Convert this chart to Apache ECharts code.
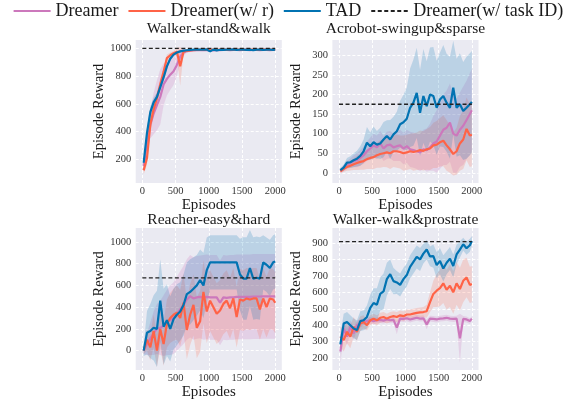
<!DOCTYPE html>
<html>
<head>
<meta charset="utf-8">
<script src="https://cdn.jsdelivr.net/npm/echarts@6/dist/echarts.min.js"></script>
<style>
  html, body { margin: 0; padding: 0; background: #fff; }
  #main { width: 574px; height: 401px; }
</style>
</head>
<body>
<div id="main"></div>
<script>
// x positions of every evaluation point
var episodes = [20, 70, 120, 170, 220, 270, 320, 370, 420, 470,
  520, 570, 620, 670, 720, 770, 820, 870, 920, 970,
  1020, 1070, 1120, 1170, 1220, 1270, 1320, 1370, 1420, 1470,
  1520, 1570, 1620, 1670, 1720, 1770, 1820, 1870, 1920, 1970,
  2000];

var methodNames = ['Dreamer', 'Dreamer(w/ r)', 'TAD'];
var refName = 'Dreamer(w/ task ID)';
var panelTitles = ['Walker-stand&walk', 'Acrobot-swingup&sparse', 'Reacher-easy&hard', 'Walker-walk&prostrate'];
var taskIdReward = [1000, 175, 670, 908];

// tick labels
var xTicks = [0, 500, 1000, 1500, 2000];
var swTicks = [200, 400, 600, 800, 1000];
var abTicks = [0, 50, 100, 150, 200, 250, 300];
var reTicks = [0, 200, 400, 600, 800, 1000];
var wpTicks = [200, 300, 400, 500, 600, 700, 800, 900];

// Walker-stand&walk
var swDreamer = [150, 320, 450, 530, 590, 650, 740, 780, 810, 835,
  880, 940, 970, 980, 984, 986, 987, 988, 986, 987,
  988, 985, 988, 987, 989, 988, 987, 989, 988, 987,
  988, 989, 987, 988, 988, 987, 989, 988, 987, 988,
  988];
var swDreamerSd = [40, 60, 100, 150, 180, 200, 150, 120, 110, 100,
  80, 50, 25, 12, 10, 8, 8, 7, 7, 7,
  6, 6, 6, 6, 6, 6, 6, 6, 6, 6,
  6, 6, 6, 6, 6, 6, 6, 6, 6, 6,
  6];
var swWithR = [120, 210, 450, 560, 640, 740, 830, 930, 950, 965,
  975, 870, 975, 982, 985, 987, 988, 989, 990, 989,
  990, 990, 989, 990, 990, 989, 990, 991, 990, 990,
  990, 989, 990, 990, 989, 990, 991, 990, 990, 990,
  990];
var swWithRSd = [30, 50, 60, 50, 45, 40, 35, 25, 20, 15,
  30, 140, 15, 8, 6, 5, 5, 5, 4, 4,
  4, 4, 4, 4, 4, 4, 4, 4, 4, 4,
  4, 4, 4, 4, 4, 4, 4, 4, 4, 4,
  4];
var swTad = [175, 390, 540, 610, 650, 720, 790, 870, 925, 955,
  970, 978, 983, 986, 988, 990, 990, 991, 990, 992,
  978, 991, 985, 990, 989, 991, 990, 992, 988, 990,
  991, 989, 990, 986, 991, 990, 988, 991, 990, 989,
  990];
var swTadSd = [25, 40, 40, 35, 30, 30, 25, 20, 15, 12,
  10, 8, 6, 5, 5, 4, 4, 4, 4, 4,
  10, 4, 6, 4, 4, 4, 4, 4, 5, 4,
  4, 4, 4, 4, 4, 4, 4, 4, 4, 4,
  4];

// Acrobot-swingup&sparse
var abDreamer = [5, 12, 20, 25, 30, 32, 38, 45, 55, 62,
  70, 65, 75, 62, 70, 72, 65, 68, 70, 62,
  68, 60, 58, 55, 52, 60, 58, 65, 75, 80,
  95, 110, 115, 128, 100, 95, 110, 120, 135, 150,
  160];
var abDreamerSd = [5, 8, 10, 12, 15, 18, 20, 22, 25, 28,
  30, 30, 32, 32, 35, 35, 35, 38, 40, 40,
  42, 45, 45, 45, 48, 50, 55, 60, 70, 80,
  85, 90, 95, 100, 100, 95, 95, 100, 100, 105,
  105];
var abWithR = [4, 10, 15, 18, 22, 25, 28, 30, 35, 38,
  40, 45, 48, 50, 52, 50, 55, 55, 53, 50,
  52, 55, 53, 55, 58, 56, 60, 62, 70, 72,
  78, 82, 70, 60, 48, 55, 75, 85, 112, 95,
  97];
var abWithRSd = [5, 8, 10, 12, 15, 18, 20, 22, 25, 28,
  30, 32, 35, 35, 38, 40, 40, 42, 42, 45,
  45, 45, 48, 48, 50, 50, 52, 55, 58, 60,
  62, 65, 65, 60, 55, 60, 70, 75, 80, 80,
  80];
var abTad = [7, 13, 26, 27, 32, 36, 43, 55, 77, 68,
  78, 72, 75, 85, 94, 85, 98, 106, 124, 129,
  138, 166, 179, 204, 153, 196, 170, 200, 196, 166,
  187, 196, 179, 166, 217, 166, 175, 158, 166, 175,
  181];
var abTadSd = [5, 8, 12, 15, 18, 20, 25, 30, 40, 35,
  40, 35, 40, 45, 40, 50, 45, 50, 60, 70,
  80, 100, 110, 115, 110, 120, 115, 120, 125, 120,
  120, 130, 125, 130, 120, 125, 130, 125, 130, 130,
  130];

// Reacher-easy&hard
var reDreamer = [0, 60, 110, 160, 200, 210, 230, 260, 280, 300,
  340, 380, 420, 470, 500, 480, 490, 495, 490, 495,
  490, 490, 490, 440, 490, 485, 490, 490, 495, 495,
  495, 495, 495, 498, 498, 498, 500, 500, 500, 500,
  500];
var reDreamerSd = [30, 100, 150, 200, 230, 250, 280, 300, 320, 330,
  340, 350, 360, 370, 380, 380, 380, 380, 390, 390,
  390, 390, 390, 390, 390, 390, 390, 390, 390, 390,
  390, 390, 390, 390, 390, 390, 390, 390, 390, 390,
  390];
var reWithR = [0, 100, 30, 180, 0, 200, 60, 250, 300, 330,
  350, 300, 440, 190, 330, 420, 210, 270, 540, 360,
  460, 400, 340, 370, 430, 460, 390, 480, 310, 470,
  460, 480, 470, 480, 480, 380, 480, 400, 480, 470,
  440];
var reWithRSd = [30, 100, 120, 150, 150, 180, 200, 220, 230, 240,
  250, 260, 270, 270, 280, 280, 280, 280, 290, 290,
  280, 280, 280, 280, 280, 280, 280, 280, 280, 280,
  280, 280, 280, 280, 280, 280, 280, 280, 280, 280,
  280];
var reTad = [0, 165, 180, 210, 200, 460, 220, 280, 200, 290,
  330, 360, 420, 520, 540, 570, 600, 650, 600, 740,
  812, 812, 812, 812, 812, 812, 812, 812, 812, 700,
  663, 663, 760, 663, 670, 663, 812, 790, 760, 812,
  820];
var reTadSd = [50, 200, 250, 300, 350, 380, 350, 330, 300, 280,
  280, 270, 280, 290, 300, 290, 280, 280, 300, 300,
  250, 250, 250, 250, 250, 250, 250, 250, 250, 330,
  380, 380, 350, 380, 380, 380, 250, 250, 260, 250,
  250];

// Walker-walk&prostrate
var wpDreamer = [240, 380, 330, 390, 350, 400, 410, 420, 425, 430,
  425, 430, 432, 428, 435, 430, 432, 385, 440, 438,
  442, 435, 440, 445, 440, 442, 405, 440, 438, 435,
  440, 442, 445, 440, 438, 440, 320, 438, 435, 425,
  440];
var wpDreamerSd = [70, 50, 50, 40, 40, 30, 25, 20, 20, 20,
  20, 18, 18, 18, 18, 18, 18, 40, 18, 18,
  18, 18, 18, 18, 18, 18, 30, 18, 18, 18,
  18, 18, 18, 18, 18, 18, 150, 18, 18, 18,
  15];
var wpWithR = [330, 310, 360, 330, 390, 360, 410, 420, 400, 430,
  440, 430, 445, 450, 440, 450, 455, 450, 460, 455,
  465, 465, 470, 475, 478, 480, 485, 540, 590, 610,
  625, 655, 615, 640, 600, 655, 620, 670, 690, 645,
  650];
var wpWithRSd = [60, 70, 70, 70, 60, 55, 45, 40, 30, 30,
  30, 30, 30, 30, 30, 30, 30, 30, 30, 30,
  30, 30, 30, 30, 30, 30, 40, 60, 80, 100,
  110, 120, 120, 130, 130, 130, 130, 130, 120, 110,
  110];
var wpTad = [283, 410, 420, 400, 380, 370, 425, 430, 450, 505,
  535, 525, 590, 605, 680, 710, 668, 660, 645, 680,
  705, 755, 785, 815, 800, 835, 860, 818, 820, 765,
  790, 745, 780, 805, 760, 830, 860, 892, 868, 886,
  912];
var wpTadSd = [60, 60, 60, 60, 60, 60, 60, 60, 70, 80,
  90, 100, 100, 110, 100, 90, 80, 70, 70, 70,
  70, 70, 70, 70, 70, 60, 60, 60, 70, 80,
  80, 80, 70, 70, 70, 60, 50, 40, 40, 40,
  30];

var panelMeans = [
  [swDreamer, swWithR, swTad],
  [abDreamer, abWithR, abTad],
  [reDreamer, reWithR, reTad],
  [wpDreamer, wpWithR, wpTad]
];
var panelSds = [
  [swDreamerSd, swWithRSd, swTadSd],
  [abDreamerSd, abWithRSd, abTadSd],
  [reDreamerSd, reWithRSd, reTadSd],
  [wpDreamerSd, wpWithRSd, wpTadSd]
];
var panelYTicks = [swTicks, abTicks, reTicks, wpTicks];

// layout
var colors = ['#CC78BC', '#FF6347', '#0173B2'];
var bandColors = ['rgba(204,120,188,0.22)', 'rgba(255,99,71,0.2)', 'rgba(1,115,178,0.2)'];
var serif = 'Liberation Serif';
var grids = [
  { left: 135.7, top: 40, width: 146.1, height: 143 },
  { left: 332.4, top: 40, width: 146.1, height: 143 },
  { left: 135.7, top: 228, width: 146.1, height: 146 },
  { left: 332.4, top: 228, width: 146.1, height: 146 }
];
var yRanges = [
  { min: 29, max: 1060 },
  { min: -26, max: 339 },
  { min: -179, max: 1128 },
  { min: 127, max: 991 }
];
var titleTops = [21, 21, 212, 212];

var chart = echarts.init(document.getElementById('main'), null, { renderer: 'canvas' });

var gridOpt = [], xAxes = [], yAxes = [], titles = [], series = [];
var splitStyle = { color: '#ffffff', width: 1, type: [3, 2] };
var plainNum = function (v) { return String(v); };

function bandSeries(i, m, mean, sd) {
  var pts = mean.map(function (v, k) { return [episodes[k], v - sd[k], v + sd[k]]; });
  return {
    type: 'custom', xAxisIndex: i, yAxisIndex: i, data: pts, silent: true, clip: true,
    encode: { x: 0, y: [1, 2] },
    renderItem: function (params, api) {
      if (params.dataIndexInside !== 0) return null;
      var top = [], bottom = [];
      for (var k = 0; k < pts.length; k++) {
        top.push(api.coord([pts[k][0], pts[k][2]]));
        bottom.unshift(api.coord([pts[k][0], pts[k][1]]));
      }
      return {
        type: 'polygon',
        shape: { points: top.concat(bottom) },
        style: { fill: bandColors[m] }
      };
    }
  };
}

grids.forEach(function (g, i) {
  gridOpt.push({
    left: g.left, top: g.top, width: g.width, height: g.height,
    show: true, backgroundColor: '#EAEAF2', borderWidth: 0
  });
  xAxes.push({
    gridIndex: i, type: 'value', min: -100, max: 2100,
    axisLine: { show: false },
    axisTick: { show: false, customValues: xTicks },
    axisLabel: { customValues: xTicks, formatter: plainNum, fontFamily: serif, fontSize: 10.5, color: '#333', margin: 3 },
    splitLine: { show: true, lineStyle: splitStyle },
    name: 'Episodes', nameLocation: 'middle', nameGap: 12,
    nameTextStyle: { fontFamily: serif, fontSize: 15, color: '#1a1a1a' }
  });
  yAxes.push({
    gridIndex: i, type: 'value', min: yRanges[i].min, max: yRanges[i].max,
    axisLine: { show: false },
    axisTick: { show: false, customValues: panelYTicks[i] },
    axisLabel: { customValues: panelYTicks[i], formatter: plainNum, fontFamily: serif, fontSize: 10.5, color: '#333', margin: 4.5 },
    splitLine: { show: true, lineStyle: splitStyle },
    name: 'Episode Reward', nameLocation: 'middle', nameGap: 29,
    nameTextStyle: { fontFamily: serif, fontSize: 14.5, color: '#1a1a1a' }
  });
  titles.push({
    text: panelTitles[i], left: g.left + g.width / 2, top: titleTops[i], textAlign: 'center', padding: 0,
    textStyle: { fontFamily: serif, fontSize: 15.5, fontWeight: 'normal', color: '#1a1a1a' }
  });

  // seaborn order: band then mean line, method by method
  for (var m = 0; m < 3; m++) {
    var mean = panelMeans[i][m], sd = panelSds[i][m];
    series.push(bandSeries(i, m, mean, sd));
    series.push({
      name: methodNames[m], type: 'line', xAxisIndex: i, yAxisIndex: i,
      data: mean.map(function (v, k) { return [episodes[k], v]; }),
      symbol: 'none', color: colors[m],
      lineStyle: { color: colors[m], width: 2.2 }
    });
  }
  series.push({
    name: refName, type: 'line', xAxisIndex: i, yAxisIndex: i,
    data: [[0, taskIdReward[i]], [2000, taskIdReward[i]]],
    symbol: 'none', color: '#222',
    lineStyle: { color: '#222', width: 1.3, type: [4, 2.5] }
  });
});

chart.setOption({
  animation: false,
  title: titles,
  legend: {
    data: methodNames.concat([refName]),
    left: 12.7, top: 2, padding: 0, itemWidth: 37, itemHeight: 14, itemGap: 9,
    selectedMode: false,
    itemStyle: { opacity: 0, borderWidth: 0 },
    lineStyle: { width: 1.8 },
    textStyle: { fontFamily: serif, fontSize: 18, color: '#1a1a1a' }
  },
  grid: gridOpt,
  xAxis: xAxes,
  yAxis: yAxes,
  series: series
});
</script>
</body>
</html>
